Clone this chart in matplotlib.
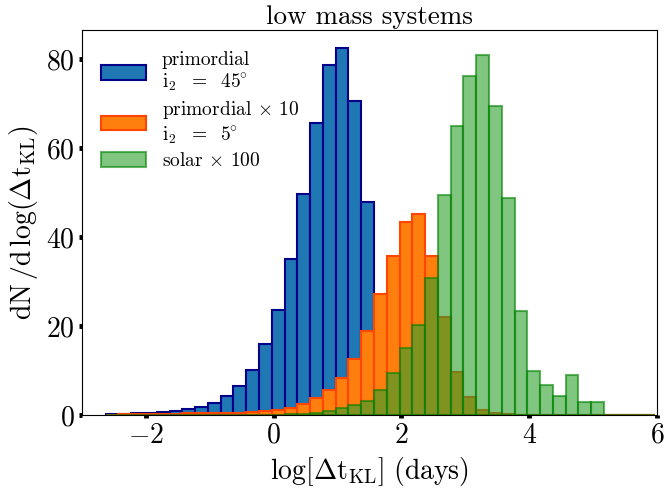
import numpy as np
import matplotlib
matplotlib.use("Agg")
import matplotlib.pyplot as plt
from matplotlib.patches import Patch

plt.rcParams['font.family'] = 'serif'
plt.rcParams['font.serif'] = ['cmr10']
plt.rcParams['mathtext.fontset'] = 'cm'
plt.rcParams['axes.formatter.use_mathtext'] = True
plt.rcParams['axes.unicode_minus'] = True

# bin edges (log days)
bin_start = -2.63
bin_width = 0.2
n_bins = 43

primordial_45 = [0.15, 0.3, 0.4, 0.45, 0.7, 1.0, 1.3, 1.9, 2.6, 4.3,
                 6.5, 10.1, 16.0, 23.7, 35.0, 49.7, 65.5, 78.7, 82.4, 70.6,
                 47.9, 20.0, 8.0, 3.0, 1.0, 0.4, 0.1, 0, 0, 0,
                 0, 0, 0, 0, 0, 0, 0, 0, 0, 0, 0, 0, 0]
primordial_5_x10 = [0.1, 0.15, 0.2, 0.2, 0.25, 0.3, 0.35, 0.4, 0.45, 0.5,
                    0.55, 0.6, 0.9, 1.1, 1.5, 2.4, 3.9, 5.6, 8.4, 12.5,
                    18.9, 27.3, 35.8, 43.4, 45.2, 35.8, 22.0, 9.7, 4.0, 1.1,
                    0.4, 0.2, 0.1, 0, 0, 0, 0, 0, 0, 0, 0, 0, 0]
solar_x100 = [0, 0, 0, 0, 0, 0, 0, 0, 0, 0,
              0, 0, 0, 0, 0.2, 0.3, 0.5, 0.9, 1.5, 2.2,
              3.1, 5.6, 9.4, 15.0, 20.2, 30.7, 49.5, 65.0, 76.2, 80.8,
              69.5, 48.7, 23.4, 10.0, 6.8, 4.35, 9.1, 2.9, 2.9, 0,
              0, 0, 0]

labels = ['primordial\n' + r'$\mathrm{i}_2\ \ =\ \ 45^{\!\!\circ}$',
          r'primordial $\times$ 10' + '\n' + r'$\mathrm{i}_2\ \ =\ \ 5^{\!\!\circ}$',
          r'solar $\times$ 100']

edges = bin_start + bin_width * np.arange(n_bins + 1)
centers = 0.5 * (edges[:-1] + edges[1:])

fig = plt.figure(figsize=(6.65, 4.93), dpi=100)
ax = fig.add_axes([0.1233, 0.1582, 0.8647, 0.7809])

ax.hist(centers, bins=edges, weights=primordial_45, color='#1f77b4',
        edgecolor='darkblue', linewidth=1.5)
ax.hist(centers, bins=edges, weights=primordial_5_x10, color='#ff7f0e',
        edgecolor='orangered', linewidth=1.5)
ax.hist(centers, bins=edges, weights=solar_x100, color='#2ca02c',
        edgecolor='green', linewidth=1.5, alpha=0.6)

ax.set_xlim(-3, 6)
ax.set_ylim(0, 86.5)
ax.set_xticks([-2, 0, 2, 4, 6])
ax.set_yticks([0, 20, 40, 60, 80])
ax.tick_params(direction='out', length=2.5, width=3.5, labelsize=20, pad=3)

ax.set_xlabel(r'$\mathrm{\log[\Delta t_{KL}]\ (days)}$', fontsize=20)
ax.set_ylabel(r'$\mathrm{dN\,/d\,\log(\Delta t_{KL})}$', fontsize=20)
ax.set_title('low mass systems', fontsize=19.5, pad=4)

handles = [Patch(facecolor='#1f77b4', edgecolor='darkblue', linewidth=1.5),
           Patch(facecolor='#ff7f0e', edgecolor='orangered', linewidth=1.5),
           Patch(facecolor='#2ca02c', edgecolor='green', linewidth=1.5, alpha=0.6)]
ax.legend(handles, labels, loc='upper left', frameon=False, fontsize=14,
          handlelength=2.3, handleheight=0.8, labelspacing=0.3,
          borderaxespad=0.0, bbox_to_anchor=(0.02, 0.967))

fig.savefig('out.png', dpi=100)
